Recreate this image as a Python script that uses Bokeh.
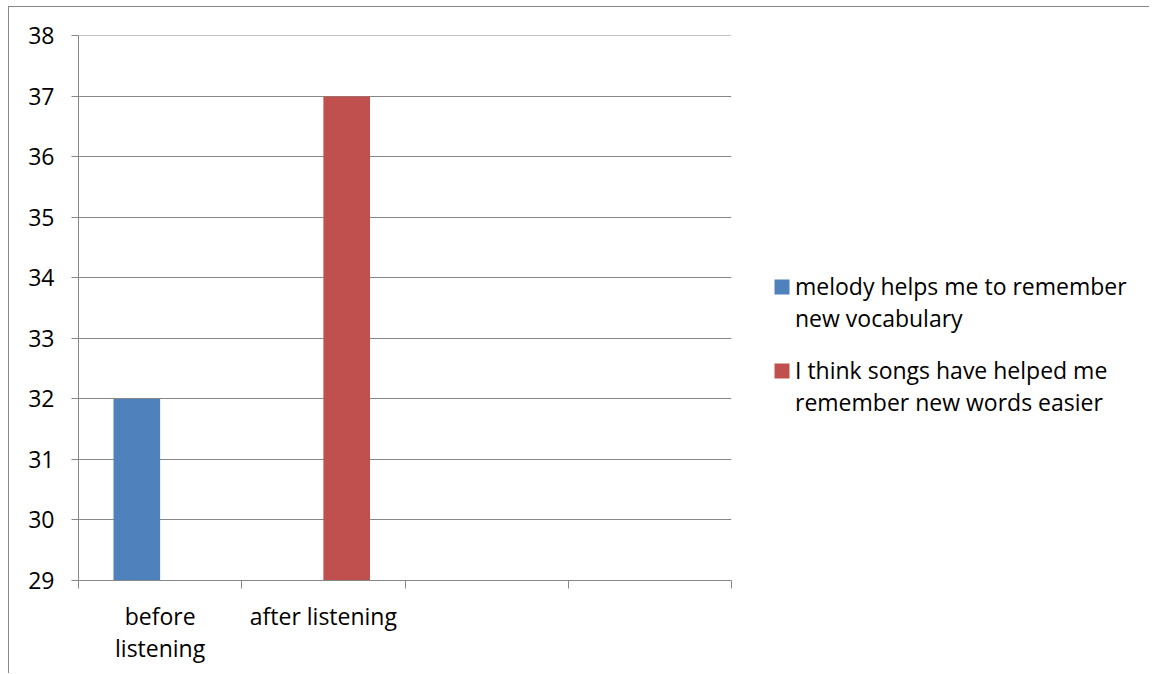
from bokeh.plotting import figure
from bokeh.models import FixedTicker, Range1d
from bokeh.layouts import row
from bokeh.core.properties import value
from bokeh.embed import file_html
from bokeh.resources import INLINE

# ---- data ----
categories = ["before\nlistening", "after listening", "", ""]
series_names = ["melody helps me to remember\nnew vocabulary",
                "I think songs have helped me\nremember new words easier"]
melody = [32, None, None, None]
songs = [None, 37, None, None]
series_values = [melody, songs]
colors = ["#4F81BD", "#C0504D"]
y_ticks = [29, 30, 31, 32, 33, 34, 35, 36, 37, 38]

# ---- style ----
FONT = "Open Sans"
FS = "23px"
GRAY = "#878787"
TXT = "#000000"

TOP, FH, BOT = 28, 545, 93   # vertical layout shared by both canvases

n = len(categories)
centers = [i + 0.5 for i in range(n)]
gap_width = 1.5
bar_w = 1.0 / (len(series_values) + gap_width)

p = figure(frame_width=653, frame_height=FH,
           x_range=Range1d(0, n), y_range=Range1d(y_ticks[0], y_ticks[-1] + 0.008),
           output_backend="svg", toolbar_location=None,
           min_border_left=69, min_border_right=18,
           min_border_top=TOP, min_border_bottom=BOT)
p.outline_line_color = None
p.background_fill_color = "white"
p.border_fill_color = "white"

for k, (vals, color) in enumerate(zip(series_values, colors)):
    off = (k - (len(series_values) - 1) / 2) * bar_w
    xs = [c + off for c, v in zip(centers, vals) if v is not None]
    tops = [v for v in vals if v is not None]
    p.vbar(x=xs, top=tops, bottom=y_ticks[0], width=bar_w,
           fill_color=color, line_color=None)

# x axis: category boundaries get tick marks, labels sit at centres
p.xaxis.ticker = FixedTicker(ticks=centers, minor_ticks=list(range(n + 1)))
p.xaxis.major_label_overrides = {c: lab for c, lab in zip(centers, categories)}
p.xaxis.major_tick_out = 0
p.xaxis.major_tick_in = 0
p.xaxis.minor_tick_out = 8
p.xaxis.minor_tick_in = 0
p.xaxis.minor_tick_line_color = GRAY
p.xaxis.axis_line_color = GRAY
p.xaxis.major_label_standoff = 11
p.xaxis.major_label_text_font = FONT
p.xaxis.major_label_text_font_size = FS
p.xaxis.major_label_text_color = TXT
p.xaxis.major_label_text_line_height = 1.02
p.xgrid.visible = False

# y axis
p.yaxis.ticker = FixedTicker(ticks=y_ticks, minor_ticks=[])
p.yaxis.major_tick_out = 7
p.yaxis.major_tick_in = 0
p.yaxis.major_tick_line_color = GRAY
p.yaxis.minor_tick_line_color = None
p.yaxis.axis_line_color = GRAY
p.yaxis.major_label_standoff = 17
p.yaxis.major_label_text_font = FONT
p.yaxis.major_label_text_font_size = FS
p.yaxis.major_label_text_color = TXT
p.ygrid.ticker = FixedTicker(ticks=y_ticks)
p.ygrid.grid_line_color = GRAY
p.ygrid.grid_line_width = 1

# ---- legend panel (separate canvas to the right of the chart) ----
LW = 400
leg = figure(frame_width=LW, frame_height=FH,
             x_range=Range1d(0, LW), y_range=Range1d(TOP + FH, TOP),
             output_backend="svg", toolbar_location=None,
             min_border_left=0, min_border_right=0,
             min_border_top=TOP, min_border_bottom=BOT)
leg.axis.visible = False
leg.grid.visible = False
leg.outline_line_color = None
leg.background_fill_color = "white"
leg.border_fill_color = "white"

sq_left, sq_size = 25, 15
txt_x = 45.5
item_tops = [272, 356]      # top of each legend entry
line_gap = 32
text_first = 6              # first text line offset below the entry top
sq_l, sq_r, sq_t, sq_b, colr = [], [], [], [], []
tx, ty, tt = [], [], []
for name, color, t0 in zip(series_names, colors, item_tops):
    sq_l.append(sq_left); sq_r.append(sq_left + sq_size)
    sq_t.append(t0); sq_b.append(t0 + sq_size); colr.append(color)
    for j, line in enumerate(name.split("\n")):
        tx.append(txt_x); ty.append(t0 + text_first + j * line_gap); tt.append(line)
leg.quad(left=sq_l, right=sq_r, top=sq_t, bottom=sq_b, fill_color=colr, line_color=None)
leg.text(x=tx, y=ty, text=tt, text_font=value(FONT), text_font_size=FS,
         text_color=TXT, text_baseline="alphabetic", text_align="left")

layout = row(p, leg, spacing=0,
             styles={"margin-left": "8px", "margin-top": "6px",
                     "border-top": "1px solid " + GRAY,
                     "border-left": "1px solid " + GRAY})

open("out.html", "w").write(file_html(layout, INLINE))
